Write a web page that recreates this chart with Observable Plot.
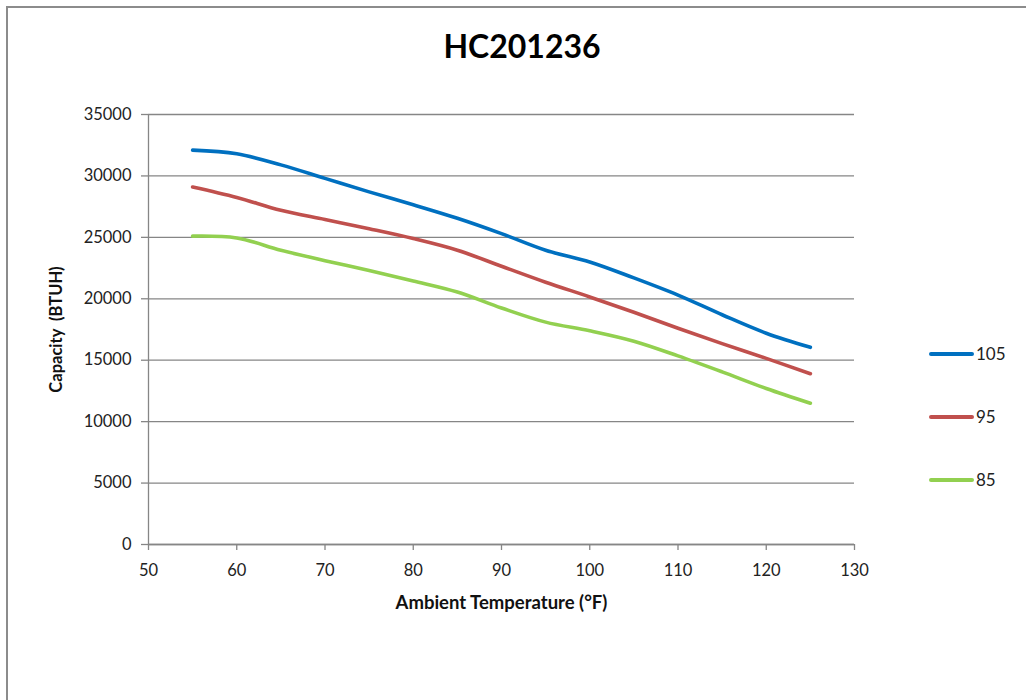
<!DOCTYPE html>
<html>
<head>
<meta charset="utf-8">
<script src="https://cdn.jsdelivr.net/npm/d3@7"></script>
<script src="https://cdn.jsdelivr.net/npm/@observablehq/plot@0.6"></script>
<style>
  html, body { margin: 0; padding: 0; background: #fff; }
  #wrap { position: relative; width: 1026px; height: 700px; overflow: hidden; font-family: Lato, "Open Sans", sans-serif; }
  #frame { position: absolute; left: 6px; top: 6px; width: 1040px; height: 720px; border: 2px solid #8c8c8c; box-sizing: border-box; pointer-events: none; }
  #title { position: absolute; left: 0; top: 0; width: 1044px; height: 90px; text-align: center; font-weight: bold; font-size: 32px; line-height: 92px; color: #000; }
  #chart { position: absolute; left: 0; top: 90px; }
  #legend { position: absolute; left: 929px; top: 0; font-size: 17px; color: #222; }
  .item { position: absolute; left: 0; width: 95px; height: 20px; }
  .sw { position: absolute; left: 0; top: 8px; width: 45px; height: 4px; border-radius: 2px; }
  .lb { position: absolute; left: 47px; top: 0; line-height: 20px; }
</style>
</head>
<body>
<div id="wrap">
  <div id="title">HC201236</div>
  <div id="chart"></div>
  <div id="legend"></div>
  <div id="frame"></div>
</div>
<script>
const temps = [55, 60, 65, 70, 75, 80, 85, 90, 95, 100, 105, 110, 115, 120, 125];
const cap105 = [32100, 31800, 30900, 29800, 28700, 27650, 26550, 25300, 23950, 23000, 21700, 20300, 18700, 17200, 16050];
const cap95  = [29100, 28250, 27200, 26450, 25700, 24900, 23950, 22650, 21350, 20150, 18900, 17600, 16350, 15150, 13900];
const cap85  = [25100, 24950, 23950, 23100, 22300, 21450, 20550, 19250, 18100, 17400, 16550, 15350, 14050, 12700, 11500];
const seriesNames = ["105", "95", "85"];
const seriesColors = ["#0070C0", "#C0504D", "#92D050"];
const xTicks = [50, 60, 70, 80, 90, 100, 110, 120, 130];
const yTicks = [0, 5000, 10000, 15000, 20000, 25000, 30000, 35000];

const seriesValues = [cap105, cap95, cap85];
const data = [];
seriesNames.forEach((name, i) => {
  temps.forEach((t, j) => data.push({series: name, temp: t, cap: seriesValues[i][j]}));
});

const gridColor = "#868686";
const plot = Plot.plot({
  width: 1026,
  height: 610,
  marginLeft: 148,
  marginRight: 172,
  marginTop: 24,
  marginBottom: 156,
  style: { fontFamily: "Lato, 'Open Sans', sans-serif", fontSize: "16px", color: "#222", background: "transparent" },
  x: { domain: [50, 130], ticks: xTicks, label: null },
  y: { domain: [0, 35000], ticks: yTicks, label: null, tickFormat: d3.format("d") },
  color: { domain: seriesNames, range: seriesColors },
  marks: [
    Plot.gridY(yTicks, { stroke: gridColor, strokeOpacity: 1, strokeWidth: 1.3 }),
    Plot.ruleX([50], { stroke: gridColor, strokeWidth: 1.3 }),
    Plot.ruleY([0], { stroke: gridColor, strokeWidth: 1.3 }),
    Plot.axisY(yTicks, { tickSize: 7, tickPadding: 10, stroke: gridColor, strokeWidth: 1.3, fontSize: 16.5, label: null, tickFormat: d3.format("d") }),
    Plot.axisX(xTicks, { tickSize: 6, tickPadding: 14, stroke: gridColor, strokeWidth: 1.3, fontSize: 16.5, label: null }),
    Plot.line(data, { x: "temp", y: "cap", z: "series", stroke: "series", strokeWidth: 3.6, curve: "catmull-rom", strokeLinecap: "round" }),
    Plot.text(["Ambient Temperature (°F)"], { frameAnchor: "bottom", dy: 64, fontWeight: "bold", fontSize: 18.5, fill: "#111" }),
    Plot.text(["Capacity  (BTUH)"], { frameAnchor: "left", textAnchor: "middle", dx: -92, rotate: -90, fontWeight: "bold", fontSize: 16.5, fill: "#111" })
  ]
});
document.getElementById("chart").appendChild(plot);

const legend = document.getElementById("legend");
const legendTops = [344, 407, 470];
seriesNames.forEach((name, i) => {
  const it = document.createElement("div");
  it.className = "item";
  it.style.top = legendTops[i] + "px";
  it.innerHTML = `<div class="sw" style="background:${seriesColors[i]}"></div><div class="lb">${name}</div>`;
  legend.appendChild(it);
});
</script>
</body>
</html>
